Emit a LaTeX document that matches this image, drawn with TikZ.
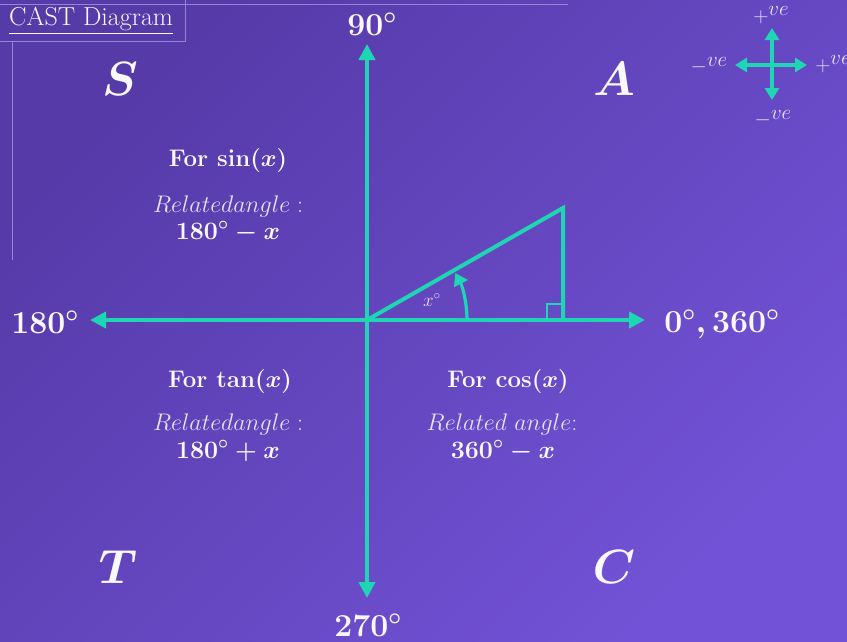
\RequirePackage{fix-cm}
\documentclass[tikz,border=0pt]{standalone}
\usepackage{amsmath}
\usetikzlibrary{arrows.meta}
\definecolor{teal1}{RGB}{30,214,180}
\definecolor{bgA}{RGB}{86,58,168}
\definecolor{bgB}{RGB}{114,82,214}
\definecolor{faint}{RGB}{150,130,215}
\definecolor{txt}{RGB}{250,248,255}
\definecolor{soft}{RGB}{232,226,250}
\tikzset{
  axisline/.style={draw=teal1,line width=4.5pt,{Triangle[width=16pt,length=16pt]}-{Triangle[width=16pt,length=16pt]}},
  smallaxis/.style={draw=teal1,line width=4.5pt,{Triangle[width=14pt,length=12pt]}-{Triangle[width=14pt,length=12pt]}},
  tri/.style={draw=teal1,line width=4pt,line join=miter},
  sq/.style={draw=teal1,line width=2.5pt},
  arcarrow/.style={draw=teal1,line width=3.2pt,-{Triangle[width=15pt,length=12pt]}},
  faintline/.style={draw=faint,line width=1pt},
  big/.style={text=txt,font=\fontsize{32}{36}\selectfont\bfseries\boldmath,inner sep=0pt,anchor=base},
  quad/.style={text=txt,font=\fontsize{48}{56}\selectfont\boldmath,inner sep=0pt,anchor=base},
  headtxt/.style={text=txt,font=\fontsize{24}{28}\selectfont\bfseries\boldmath,inner sep=0pt,anchor=base},
  reltxt/.style={text=soft,font=\fontsize{24}{28}\selectfont,inner sep=0pt,anchor=base},
  valtxt/.style={text=txt,font=\fontsize{25}{29}\selectfont\bfseries\boldmath,inner sep=0pt,anchor=base},
  signtxt/.style={text=soft,font=\fontsize{21}{24}\selectfont,inner sep=0pt},
}
\begin{document}
\begin{tikzpicture}[x=1pt,y=-1pt]
\useasboundingbox (0,0) rectangle (847,641);
\shade[top color=bgA,bottom color=bgB,shading angle=45] (0,0) rectangle (847,641);
% faint frame lines
\coordinate (f1) at (0,4);
\coordinate (f2) at (568,4);
\coordinate (f3) at (0,41);
\coordinate (f4) at (185,41);
\coordinate (f5) at (185,0);
\coordinate (f6) at (12,41);
\coordinate (f7) at (12,260);
\draw[faintline] (f1) -- (f2);
\draw[faintline] (f3) -- (f4) -- (f5);
\draw[faintline] (f6) -- (f7);
% title
\node[text=txt,font=\fontsize{26}{30}\selectfont,anchor=base west,inner sep=0pt] (title) at (9,25) {\underline{CAST Diagram}};
% axes
\coordinate (O) at (367,320);
\coordinate (L) at (90,320);
\coordinate (R) at (645,320);
\coordinate (U) at (367,44);
\coordinate (D) at (367,598);
\draw[axisline] (L) -- (R);
\draw[axisline] (D) -- (U);
% triangle
\coordinate (P) at (563,208);
\coordinate (Q) at (563,320);
\draw[tri] (O) -- (P) -- (Q);
\coordinate (s1) at (547,320);
\coordinate (s2) at (547,304);
\coordinate (s3) at (563,304);
\draw[sq] (s1) -- (s2) -- (s3);
\coordinate (a0) at (467,320);
\draw[arcarrow] (a0) arc[start angle=0,end angle=-28,radius=100];
\node[text=soft,font=\fontsize{19}{22}\selectfont,inner sep=0pt] (xl) at (432,300) {$x^\circ$};
% axis labels
\node[big] (n90) at (372,35) {$90^\circ$};
\node[big] (n180) at (45,333) {$180^\circ$};
\node[big] (n0) at (722,332) {$0^\circ, 360^\circ$};
\node[big] (n270) at (368,636) {$270^\circ$};
% quadrant letters
\node[quad] (qS) at (120,95) {$S$};
\node[quad] (qA) at (614,95) {$A$};
\node[quad] (qT) at (118,583) {$T$};
\node[quad] (qC) at (614,583) {$C$};
% sin block
\node[headtxt] (sinh) at (228,166) {For $\sin(x)$};
\node[reltxt] (sinr) at (228,212) {$Relatedangle:$};
\node[valtxt] (sinv) at (228,239) {$180^\circ - x$};
% tan block
\node[headtxt] (tanh) at (230,387) {For $\tan(x)$};
\node[reltxt] (tanr) at (228,430) {$Relatedangle:$};
\node[valtxt] (tanv) at (228,458) {$180^\circ + x$};
% cos block
\node[headtxt] (cosh) at (508,387) {For $\cos(x)$};
\node[reltxt] (cosr) at (502,430) {$Related\ angle$:};
\node[valtxt] (cosv) at (503,458) {$360^\circ - x$};
% small sign cross
\coordinate (cU) at (772,28);
\coordinate (cD) at (772,100);
\coordinate (cL) at (735,65);
\coordinate (cR) at (807,65);
\draw[smallaxis] (cL) -- (cR);
\draw[smallaxis] (cD) -- (cU);
\node[signtxt] (pt) at (771,15) {$+$\raisebox{7pt}{$ve$}};
\node[signtxt] (ml) at (709,66) {\raisebox{-6pt}{$-$}$ve$};
\node[signtxt] (pr) at (833,64) {$+$\raisebox{7pt}{$ve$}};
\node[signtxt] (mb) at (773,119) {\raisebox{-6pt}{$-$}$ve$};
\end{tikzpicture}
\end{document}
